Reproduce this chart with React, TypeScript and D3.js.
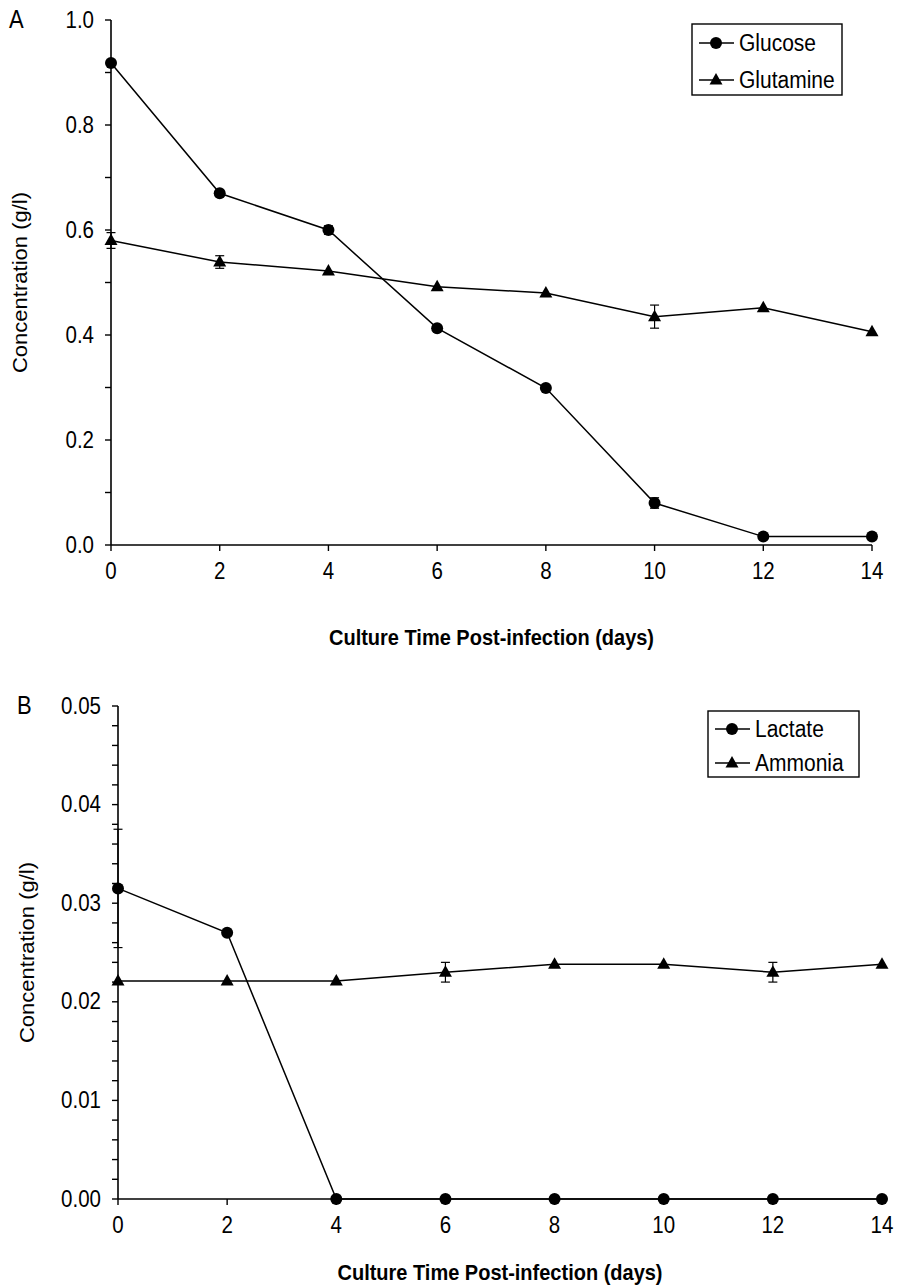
import React from "react";
import * as d3 from "d3";

const days = [0, 2, 4, 6, 8, 10, 12, 14];
const glucose = [0.918, 0.67, 0.6, 0.413, 0.299, 0.08, 0.016, 0.016];
const glucoseErr = [0, 0, 0.008, 0, 0, 0.01, 0, 0];
const glutamine = [0.58, 0.539, 0.522, 0.492, 0.48, 0.435, 0.452, 0.406];
const glutamineErr = [0.015, 0.012, 0, 0, 0, 0.022, 0, 0];
const lactate = [0.0315, 0.027, 0, 0, 0, 0, 0, 0];
const lactateErr = [0.006, 0, 0, 0, 0, 0, 0, 0];
const ammonia = [0.0221, 0.0221, 0.0221, 0.023, 0.0238, 0.0238, 0.023, 0.0238];
const ammoniaErr = [0, 0, 0, 0.001, 0, 0, 0.001, 0];
const xTitle = "Culture Time Post-infection (days)";
const yTitle = "Concentration (g/l)";

const SY = 1.13;
const FONT = "Arial, 'Liberation Sans', Helvetica, sans-serif";

function T({ x, y, anchor = "start", size = 19, weight = "normal", rotate = false, children }: any) {
  return (
    <text
      transform={`translate(${x},${y}) scale(1,${SY})${rotate ? " rotate(-90)" : ""}`}
      textAnchor={anchor}
      fontSize={size}
      fontWeight={weight}
      fontFamily={FONT}
      fill="#000"
    >
      {children}
    </text>
  );
}

function Marker({ kind, x, y }: any) {
  if (kind === "circle") return <circle cx={x} cy={y} r={6} fill="#000" />;
  return <path d={`M${x},${y - 7}L${x + 6.5},${y + 4.5}L${x - 6.5},${y + 4.5}Z`} fill="#000" />;
}

function Panel({ cfg }: any) {
  const x = d3.scaleLinear().domain([0, 14]).range([cfg.x0, cfg.x1]);
  const y = d3.scaleLinear().domain([0, cfg.ymax]).range([cfg.y0, cfg.y1]);
  const line = d3.line<number>().x((_, i) => x(days[i])).y((v) => y(v));
  const nMinor = Math.round(cfg.ymax / cfg.minor);
  const minorTicks = d3.range(nMinor + 1).map((i) => i * cfg.minor);
  const per = Math.round(cfg.major / cfg.minor);
  const fmt = d3.format(cfg.fmt);
  return (
    <g>
      <T x={cfg.letterX} y={cfg.y1 + 8} size={22}>{cfg.letter}</T>
      <T x={cfg.yTitleX} y={(cfg.y0 + cfg.y1) / 2} anchor="middle" size={19.5} rotate>{yTitle}</T>
      {/* y axis */}
      <line x1={cfg.x0} x2={cfg.x0} y1={cfg.y0} y2={cfg.y1} stroke="#000" strokeWidth={1.6} />
      {minorTicks.map((t, i) => (
        <g key={i}>
          <line x1={cfg.x0 - 6} x2={cfg.x0} y1={y(t)} y2={y(t)} stroke="#000" strokeWidth={1.4} />
          {i % per === 0 && (
            <T x={cfg.x0 - 17} y={y(t) + 7.5} anchor="end" size={20.5}>{fmt(t)}</T>
          )}
        </g>
      ))}
      {/* x axis */}
      <line x1={cfg.x0} x2={cfg.x1} y1={cfg.y0} y2={cfg.y0} stroke="#000" strokeWidth={1.6} />
      {days.map((d) => (
        <g key={d}>
          <line x1={x(d)} x2={x(d)} y1={cfg.y0} y2={cfg.y0 + 6} stroke="#000" strokeWidth={1.4} />
          <T x={x(d)} y={cfg.y0 + 34} anchor="middle" size={20.5}>{d}</T>
        </g>
      ))}
      <T x={(cfg.x0 + cfg.x1) / 2} y={cfg.y0 + cfg.titleOff} anchor="middle" size={20} weight="bold">{xTitle}</T>
      {cfg.series.map((s: any, si: number) => (
        <g key={si}>
          <path d={line(s.values) || ""} fill="none" stroke="#000" strokeWidth={1.5} />
          {s.values.map((v: number, i: number) =>
            s.err[i] > 0 ? (
              <g key={i} stroke="#000" strokeWidth={1.2}>
                <line x1={x(days[i])} x2={x(days[i])} y1={y(v - s.err[i])} y2={y(v + s.err[i])} />
                <line x1={x(days[i]) - 4.5} x2={x(days[i]) + 4.5} y1={y(v - s.err[i])} y2={y(v - s.err[i])} />
                <line x1={x(days[i]) - 4.5} x2={x(days[i]) + 4.5} y1={y(v + s.err[i])} y2={y(v + s.err[i])} />
              </g>
            ) : null
          )}
          {s.values.map((v: number, i: number) => (
            <Marker key={i} kind={s.kind} x={x(days[i])} y={y(v)} />
          ))}
        </g>
      ))}
      {/* legend */}
      <rect x={cfg.lg.x} y={cfg.lg.y} width={cfg.lg.w} height={cfg.lg.h} fill="#fff" stroke="#000" strokeWidth={1.4} />
      {cfg.series.map((s: any, si: number) => {
        const ly = cfg.lg.y + cfg.lg.r0 + si * cfg.lg.dr;
        return (
          <g key={si}>
            <line x1={cfg.lg.x + 7} x2={cfg.lg.x + 42} y1={ly} y2={ly} stroke="#000" strokeWidth={1.5} />
            <Marker kind={s.kind} x={cfg.lg.x + 24} y={ly} />
            <T x={cfg.lg.x + 47} y={ly + 7.5} size={21}>{s.name}</T>
          </g>
        );
      })}
    </g>
  );
}

const panelA = {
  letter: "A", letterX: 9, yTitleX: 27, titleOff: 100,
  x0: 111, x1: 872, y0: 545, y1: 20, ymax: 1.0, minor: 0.1, major: 0.2, fmt: ".1f",
  lg: { x: 692, y: 24, w: 150, h: 71, r0: 19, dr: 37 },
  series: [
    { name: "Glucose", kind: "circle", values: glucose, err: glucoseErr },
    { name: "Glutamine", kind: "triangle", values: glutamine, err: glutamineErr },
  ],
};

const panelB = {
  letter: "B", letterX: 17, yTitleX: 34, titleOff: 81,
  x0: 118, x1: 882, y0: 1199, y1: 706, ymax: 0.05, minor: 0.002, major: 0.01, fmt: ".2f",
  lg: { x: 708, y: 711, w: 151, h: 66, r0: 18, dr: 34 },
  series: [
    { name: "Lactate", kind: "circle", values: lactate, err: lactateErr },
    { name: "Ammonia", kind: "triangle", values: ammonia, err: ammoniaErr },
  ],
};

export default function App() {
  return (
    <svg width={905} height={1287} style={{ position: "absolute", left: 0, top: 0, background: "#fff" }}>
      <rect width={905} height={1287} fill="#fff" />
      <Panel cfg={panelA} />
      <Panel cfg={panelB} />
    </svg>
  );
}
